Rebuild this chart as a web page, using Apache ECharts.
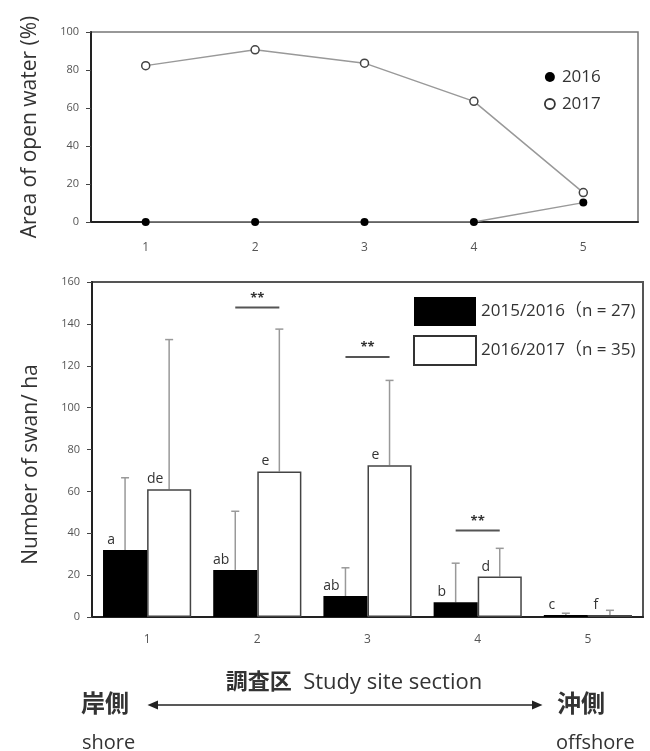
<!DOCTYPE html>
<html><head><meta charset="utf-8">
<script src="https://cdn.jsdelivr.net/npm/echarts@6/dist/echarts.min.js"></script>
<style>html,body{margin:0;padding:0;background:#fff}#c{width:650px;height:751px}</style>
</head><body><div id="c"></div>
<script>
const sections = ['1','2','3','4','5'];
const openWater2016 = [0, 0, 0, 0, 10.2];
const openWater2017 = [82.3, 90.6, 83.6, 63.5, 15.5];
const swanNames = ['2015/2016（n = 27)', '2016/2017（n = 35)'];
const swan1516 = [32, 22.5, 10, 7, 1];
const swan1617 = [61, 69.5, 72.5, 19.3, 1];
const swan1516ErrTop = [66.5, 50.5, 23.5, 25.7, 1.8];
const swan1617ErrTop = [132.5, 137.5, 113, 32.8, 3.2];
const letters1516 = ['a', 'ab', 'ab', 'b', 'c'];
const letters1617 = ['de', 'e', 'e', 'd', 'f'];
const sigSectionIdx = [1, 2, 3];
const sigLevel = [147.8, 124.2, 41.3];
const sigMark = '**';

const FONT = '"Open Sans","Noto Sans CJK JP",sans-serif';
const chart = echarts.init(document.getElementById('c'), null, {renderer: 'canvas'});

function errRender(shift) {
  return function (params, api) {
    const i = api.value(0);
    const bw = api.size([1, 0])[0];
    const p0 = api.coord([i, api.value(1)]);
    const p1 = api.coord([i, api.value(2)]);
    const x = p0[0] + shift * bw;
    return {type: 'group', children: [
      {type: 'line', shape: {x1: x, y1: p0[1], x2: x, y2: p1[1]}, style: {stroke: '#999', lineWidth: 1.5}},
      {type: 'line', shape: {x1: x - 4, y1: p1[1], x2: x + 4, y2: p1[1]}, style: {stroke: '#999', lineWidth: 1.5}}
    ]};
  };
}
function sigRender(params, api) {
  const i = api.value(0);
  const bw = api.size([1, 0])[0];
  const p = api.coord([i, api.value(1)]);
  return {type: 'group', children: [
    {type: 'line', shape: {x1: p[0] - 0.2 * bw, y1: p[1], x2: p[0] + 0.2 * bw, y2: p[1]}, style: {stroke: '#555', lineWidth: 2}},
    {type: 'text', x: p[0], y: p[1] - 3, style: {text: sigMark, align: 'center', verticalAlign: 'bottom', fontSize: 13, fontWeight: 'bold', fontFamily: FONT, fill: '#333'}}
  ]};
}

const yLabel = {fontSize: 11, color: '#555', fontFamily: FONT, margin: 12};
const xLabel = {fontSize: 12, color: '#555', fontFamily: FONT};

chart.setOption({
  animation: false,
  backgroundColor: '#fff',
  grid: [
    {left: 91, right: 12, top: 32, bottom: 751 - 222, show: true, borderColor: '#777', borderWidth: 1.5},
    {left: 92, right: 7, top: 282, bottom: 751 - 617, show: true, borderColor: '#555', borderWidth: 2}
  ],
  xAxis: [
    {type: 'category', gridIndex: 0, data: sections,
     axisLine: {lineStyle: {color: '#222', width: 2}}, axisTick: {show: false},
     axisLabel: Object.assign({margin: 20}, xLabel)},
    {type: 'category', gridIndex: 1, data: sections,
     axisLine: {lineStyle: {color: '#222', width: 2}}, axisTick: {show: false},
     axisLabel: Object.assign({margin: 17}, xLabel)}
  ],
  yAxis: [
    {type: 'value', gridIndex: 0, min: 0, max: 100, interval: 20,
     name: 'Area of open water (%)', nameLocation: 'middle', nameGap: 50,
     nameTextStyle: {fontSize: 21, color: '#333', fontFamily: FONT},
     axisLine: {show: true, lineStyle: {color: '#222', width: 2}},
     axisTick: {show: true, length: 5, lineStyle: {color: '#444'}},
     splitLine: {show: false}, axisLabel: yLabel},
    {type: 'value', gridIndex: 1, min: 0, max: 160, interval: 20,
     name: 'Number of swan/ ha', nameLocation: 'middle', nameGap: 50,
     nameTextStyle: {fontSize: 21, color: '#333', fontFamily: FONT, padding: [0, 30, 0, 0]},
     axisLine: {show: true, lineStyle: {color: '#222', width: 2}},
     axisTick: {show: true, length: 5, lineStyle: {color: '#444'}},
     splitLine: {show: false}, axisLabel: yLabel}
  ],
  legend: [
    {orient: 'vertical', left: 544, top: 67, padding: 0, itemWidth: 14, itemHeight: 10, itemGap: 7,
     icon: 'circle', selectedMode: false,
     textStyle: {fontSize: 17, color: '#333', fontFamily: FONT, lineHeight: 20},
     data: [
       {name: '2016', itemStyle: {color: '#000', borderWidth: 0}},
       {name: '2017', itemStyle: {color: '#fff', borderColor: '#333', borderWidth: 1.8}}
     ]},
    {orient: 'vertical', left: 413, top: 297, padding: 0, itemWidth: 62, itemHeight: 29, itemGap: 9,
     icon: 'rect', selectedMode: false,
     textStyle: {fontSize: 17, color: '#333', fontFamily: FONT},
     data: [
       {name: swanNames[0], itemStyle: {color: '#000'}},
       {name: swanNames[1], itemStyle: {color: '#fff', borderColor: '#333', borderWidth: 2}}
     ]}
  ],
  series: [
    {name: '2016', type: 'line', xAxisIndex: 0, yAxisIndex: 0, data: openWater2016,
     symbol: 'circle', symbolSize: 8, z: 3,
     lineStyle: {color: '#999', width: 1.5}, itemStyle: {color: '#000'}},
    {name: '2017', type: 'line', xAxisIndex: 0, yAxisIndex: 0, data: openWater2017,
     symbol: 'circle', symbolSize: 8, z: 4,
     lineStyle: {color: '#999', width: 1.5}, itemStyle: {color: '#fff', borderColor: '#444', borderWidth: 1.5}},
    {name: swanNames[0], type: 'bar', xAxisIndex: 1, yAxisIndex: 1, data: swan1516,
     barGap: '0%', barCategoryGap: '20%', itemStyle: {color: '#000'},
     label: {show: true, position: 'top', distance: 3, offset: [-14, 0], fontSize: 14, color: '#333', fontFamily: FONT,
             formatter: p => letters1516[p.dataIndex]}},
    {name: swanNames[1], type: 'bar', xAxisIndex: 1, yAxisIndex: 1, data: swan1617,
     barGap: '0%', barCategoryGap: '20%', itemStyle: {color: '#fff', borderColor: '#444', borderWidth: 1.5},
     label: {show: true, position: 'top', distance: 3, offset: [-14, 0], fontSize: 14, color: '#333', fontFamily: FONT,
             formatter: p => letters1617[p.dataIndex]}},
    {type: 'custom', xAxisIndex: 1, yAxisIndex: 1, renderItem: errRender(-0.2), z: 1,
     data: sections.map((s, i) => [i, swan1516[i], swan1516ErrTop[i]])},
    {type: 'custom', xAxisIndex: 1, yAxisIndex: 1, renderItem: errRender(0.2), z: 1,
     data: sections.map((s, i) => [i, swan1617[i], swan1617ErrTop[i]])},
    {type: 'custom', xAxisIndex: 1, yAxisIndex: 1, renderItem: sigRender, z: 5,
     data: sigSectionIdx.map((ci, k) => [ci, sigLevel[k]])}
  ],
  graphic: [
    {type: 'text', x: 354, y: 683, style: {text: '{b|調査区}  Study site section', align: 'center', verticalAlign: 'middle', fontSize: 22, fontFamily: FONT, fill: '#333',
      rich: {b: {fontSize: 22, fontWeight: 'bold', fontFamily: FONT, fill: '#333'}}}},
    {type: 'text', x: 81, y: 705, style: {text: '岸側', align: 'left', verticalAlign: 'middle', fontSize: 24, fontWeight: 'bold', fontFamily: FONT, fill: '#333'}},
    {type: 'text', x: 557, y: 705, style: {text: '沖側', align: 'left', verticalAlign: 'middle', fontSize: 24, fontWeight: 'bold', fontFamily: FONT, fill: '#333'}},
    {type: 'text', x: 82, y: 743, style: {text: 'shore', align: 'left', verticalAlign: 'middle', fontSize: 20, fontFamily: FONT, fill: '#333'}},
    {type: 'text', x: 556, y: 743, style: {text: 'offshore', align: 'left', verticalAlign: 'middle', fontSize: 20, fontFamily: FONT, fill: '#333'}},
    {type: 'line', shape: {x1: 155, y1: 705, x2: 535, y2: 705}, style: {stroke: '#222', lineWidth: 1.5}},
    {type: 'polygon', shape: {points: [[147.5, 705], [158, 700.5], [158, 709.5]]}, style: {fill: '#222'}},
    {type: 'polygon', shape: {points: [[542.5, 705], [532, 700.5], [532, 709.5]]}, style: {fill: '#222'}}
  ]
});
</script></body></html>
